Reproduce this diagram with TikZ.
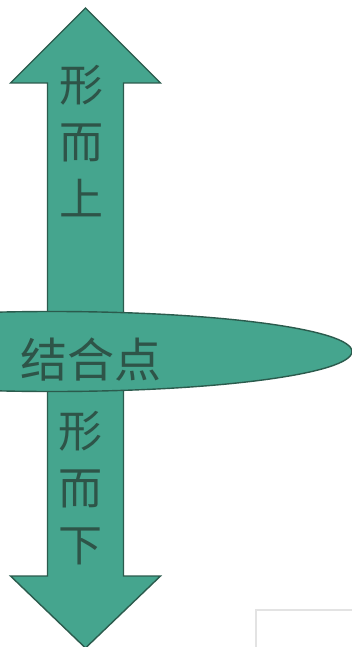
\documentclass[tikz,border=0pt]{standalone}
\usepackage{fontspec}
\newfontfamily\cjk{Noto Sans CJK SC}[Scale=1]
\definecolor{tealfill}{HTML}{45A58E}
\definecolor{tealline}{HTML}{2B5B4D}
\definecolor{txtcol}{HTML}{2E5448}
\tikzset{
  shapefill/.style={fill=tealfill, draw=tealline, line width=1.4pt, line join=miter},
  cjktext/.style={text=txtcol, font=\cjk\fontsize{44}{57}\selectfont, align=center, inner sep=0pt},
}
\begin{document}
\begin{tikzpicture}[x=1pt,y=-1pt]
\useasboundingbox (0,0) rectangle (352,647);
\begin{scope}
\clip (0,0) rectangle (352,647);
% light gray frame at bottom right
\draw[gray!22, line width=2pt] (256,647) -- (256,610) -- (352,610);
% double arrow
\draw[shapefill] (85.5,8) -- (160.5,83) -- (123.5,83) -- (123.5,576) -- (160.5,576)
  -- (85.5,648) -- (10.5,576) -- (47.5,576) -- (47.5,83) -- (10.5,83) -- cycle;
% ellipse
\draw[shapefill] (52,351.5) ellipse [x radius=300, y radius=40];
\end{scope}
\node[cjktext] (up) at (81,141) {形\\而\\上};
\node[cjktext] (down) at (80,488) {形\\而\\下};
\node[cjktext, font=\cjk\fontsize{47}{57}\selectfont] (mid) at (91,360) {结合点};
\end{tikzpicture}
\end{document}
